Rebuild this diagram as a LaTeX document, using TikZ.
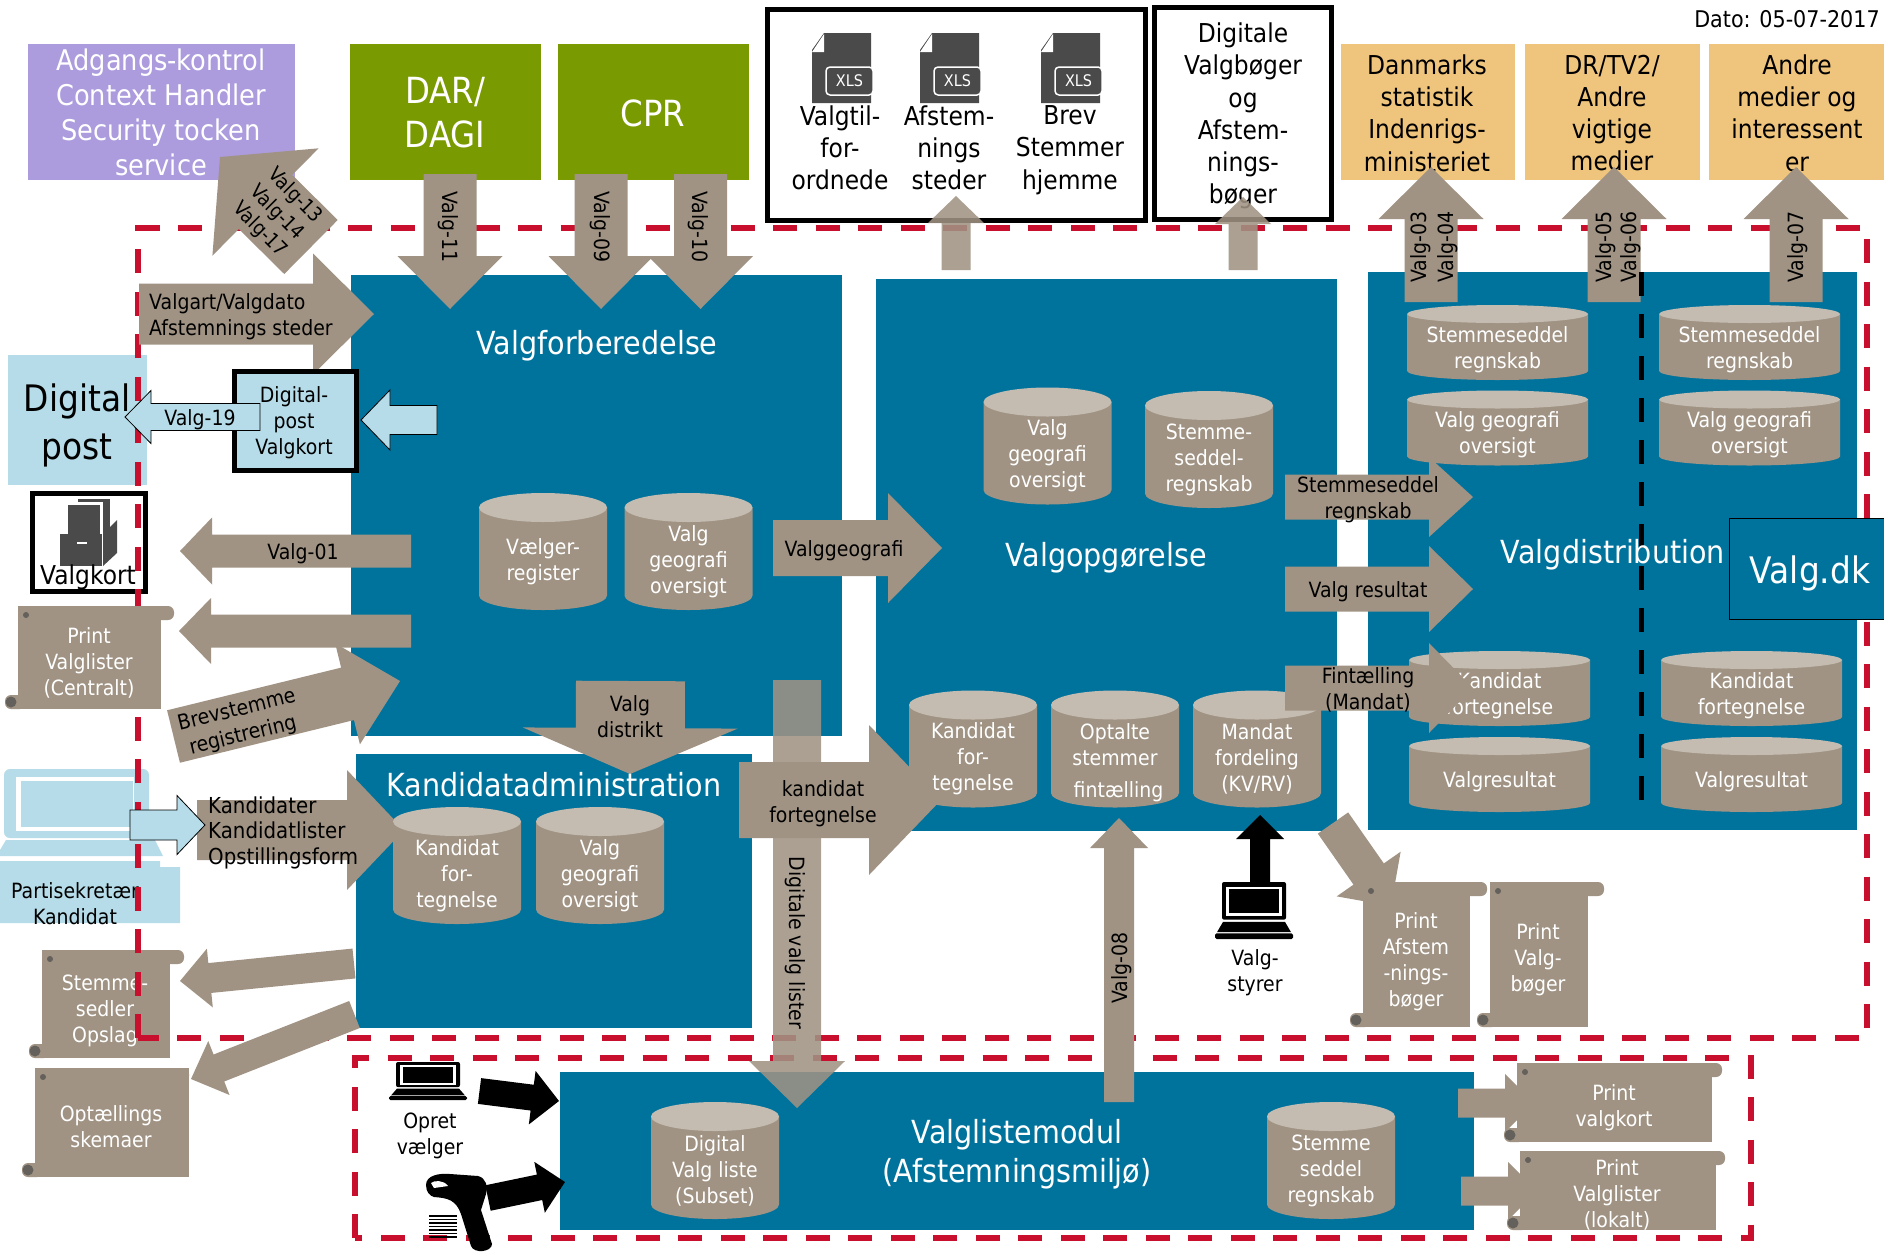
\documentclass[tikz,border=0pt]{standalone}
\usepackage{fontspec}
\setmainfont[FakeStretch=0.9]{DejaVu Sans}
\usetikzlibrary{calc}
\definecolor{valgblue}{HTML}{00739D}
\definecolor{boxbrown}{HTML}{A09383}
\definecolor{captop}{HTML}{C4BCB1}
\definecolor{lightblue}{HTML}{B5DCE8}
\definecolor{adgangpurple}{HTML}{AC9CDE}
\definecolor{registergreen}{HTML}{7A9A01}
\definecolor{mediaorange}{HTML}{EFC47D}
\definecolor{borderred}{HTML}{C8102E}
\definecolor{icongrey}{HTML}{4A4A4A}
\tikzset{
  txtr/.style={font=\fontsize{21}{26}\selectfont,align=center,inner sep=0pt},
  txts/.style={txtr,yshift=-2.5pt},
  txtm/.style={font=\fontsize{26}{32.3}\selectfont,align=center,inner sep=0pt,yshift=-2pt},
  txtl/.style={font=\fontsize{31.8}{39}\selectfont,align=center,inner sep=0pt,white,yshift=-2.5pt},
  brownfill/.style={fill=boxbrown},
  fadedfill/.style={fill=boxbrown,fill opacity=.87},
  blackfill/.style={fill=black},
  lightarrow/.style={fill=lightblue,draw=black,line width=.8pt},
  reddash/.style={draw=borderred,line width=6pt,dash pattern=on 24pt off 18.5pt},
  blackbox/.style={draw=black,fill=white,line width=5pt},
  dbtext/.style={font=\fontsize{21}{26}\selectfont,align=center,inner sep=0pt,white}
}
% tail, tip, half shaft, half head, head length
\newcommand{\blockarrow}[6][brownfill]{%
  \coordinate (tl) at (#2);
  \coordinate (tp) at (#3);
  \coordinate (hb) at ($(tp)!#6pt!(tl)$);
  \path[#1] ($(tl)!#4pt!90:(tp)$) -- ($(hb)!#4pt!90:(tp)$) -- ($(hb)!#5pt!90:(tp)$) -- (tp)
    -- ($(hb)!#5pt!-90:(tp)$) -- ($(hb)!#4pt!-90:(tp)$) -- ($(tl)!#4pt!-90:(tp)$) -- cycle;}
% left, top, right, bottom, top curl
\newcommand{\scrollshape}[5]{%
  \fill[boxbrown] (#1,#2) rectangle (#3,#4);
  \fill[boxbrown,rounded corners=6pt] (#1,#2) rectangle (#3+#5,#2+14);
  \fill[boxbrown,rounded corners=6pt] (#1-13,#4-14) rectangle (#1+8,#4);
  \fill[boxbrown,rounded corners=6pt] (#1,#2) rectangle (#1+10,#2+20);
  \fill[icongrey!70!boxbrown] (#1-7,#4-7) circle[radius=5.5pt];
  \fill[icongrey!70!boxbrown] (#1+8,#2+9) circle[radius=3pt];}
% x, y, half width, half height, end radius
\newcommand{\canbody}[5]{%
  \fill[boxbrown] (#1-#3,#2-#4+#5) -- (#1-#3,#2+#4-#5)
    arc[start angle=180,end angle=360,x radius=#3pt,y radius=#5pt] -- (#1+#3,#2-#4+#5) -- cycle;
  \fill[captop] (#1,#2-#4+#5) ellipse[x radius=#3pt,y radius=#5pt];}
% name, x, y, text
\newcommand{\talldb}[4]{%
  \canbody{#2}{#3}{64}{58.5}{14.5}
  \node (#1) at (#2,#3+10) [dbtext] {#4};}
\newcommand{\shortdb}[4]{%
  \canbody{#2}{#3}{90.5}{37.5}{9}
  \node (#1) at (#2,#3+7) [dbtext] {#4};}
% left, top, height
\newcommand{\laptopicon}[3]{%
  \begin{scope}[shift={(#1,#2)},yscale=#3/100]
    \fill[black,rounded corners=2pt] (7,0) rectangle (71,66);
    \fill[white] (11,8) rectangle (67,60);
    \fill[black] (14,13) rectangle (64,55);
    \fill[black] (8,70) -- (70,70) -- (76,88) -- (2,88) -- cycle;
    \fill[black,rounded corners=1.5pt] (0,90) rectangle (78,100);
  \end{scope}}
% left edge of the sheet
\newcommand{\xlsicon}[1]{%
  \fill[icongrey] (#1+12,33) -- (#1+59,33) -- (#1+59,103) -- (#1,103) -- (#1,50) -- cycle;
  \fill[white] (#1+12,34) -- (#1+12,52) -- (#1,52) -- cycle;
  \draw[fill=icongrey,draw=white,line width=1.5pt,rounded corners=4pt] (#1+14,67) rectangle (#1+61,95);
  \node at (#1+37.5,81) [white,font=\fontsize{16}{16}\selectfont,inner sep=0pt] {XLS};}

\begin{document}
\begin{tikzpicture}[x=1pt,y=-1pt]
  \useasboundingbox (0,0) rectangle (1884,1253);
  \fill[white] (0,0) rectangle (1884,1253);

  % top row
  \node (dato) at (1787,19) [txtr,font=\fontsize{23}{26}\selectfont] {Dato: 05-07-2017};
  \fill[adgangpurple] (28,44) rectangle (295,180);
  \node (adgang) at (161,112.5) [white,align=center,inner sep=0pt,font=\fontsize{28.5}{35.2}\selectfont] {Adgangs-kontrol\\Context Handler\\Security tocken\\service};
  \fill[registergreen] (350,44) rectangle (541,180);
  \node (dar) at (445,113) [white,align=center,inner sep=0pt,font=\fontsize{36}{44}\selectfont] {DAR/\\DAGI};
  \fill[registergreen] (558,44) rectangle (749,180);
  \node (cpr) at (653,113) [white,inner sep=0pt,font=\fontsize{36}{44}\selectfont] {CPR};
  \draw[blackbox] (767,9) rectangle (1145,220);
  \xlsicon{812} \xlsicon{920} \xlsicon{1041}
  \node (tilfor) at (840,146) [txtm] {Valgtil-\\for-\\ordnede};
  \node (afst) at (949,146) [txtm] {Afstem-\\nings\\steder};
  \node (brev) at (1070,148) [txtm] {Brev\\Stemmer\\hjemme};
  \draw[blackbox] (1154,7) rectangle (1331,219);
  \node (digbog) at (1243,114) [txtm] {Digitale\\Valgbøger\\og\\Afstem-\\nings-\\bøger};
  \fill[mediaorange] (1341,44) rectangle (1515,180);
  \node (danmark) at (1427,111) [txtm] {Danmarks\\statistik\\Indenrigs-\\ministeriet};
  \fill[mediaorange] (1525,44) rectangle (1700,180);
  \node (drtv) at (1612,111) [txtm] {DR/TV2/\\Andre\\vigtige\\medier};
  \fill[mediaorange] (1709,44) rectangle (1884,180);
  \node (andre) at (1797,111) [txtm] {Andre\\medier og\\interessent\\er};

  % modules
  \fill[valgblue] (351,275) rectangle (842,736);
  \fill[valgblue] (876,279) rectangle (1337,831);
  \fill[valgblue] (1368,272) rectangle (1857,830);
  \fill[valgblue] (356,754) rectangle (752,1028);
  \fill[valgblue] (560,1072) rectangle (1474,1230);

  % left side, under the red line
  \fill[lightblue] (8,355) rectangle (147,485);
  \node (digpost) at (77,425) [align=center,inner sep=0pt,font=\fontsize{36.5}{48}\selectfont] {Digital\\post};
  \draw[blackbox] (32,493) rectangle (145,591);
  \fill[icongrey] (78,499) rectangle (110,540);
  \fill[white] (71,502) rectangle (103,540);
  \fill[icongrey] (68,505) rectangle (100,540);
  \fill[icongrey] (60,534) rectangle (102,566);
  \fill[icongrey] (103,534) -- (117,520) -- (117,553) -- (103,566) -- cycle;
  \fill[white] (77,542) rectangle (87,544);
  \node (valgkort) at (88,575) [txtm] {Valgkort};
  \fill[lightblue,rounded corners=6pt] (4,769) rectangle (149,838);
  \fill[white] (16,777) rectangle (134,831);
  \fill[lightblue] (21,781) rectangle (133,827);
  \fill[lightblue] (6,840) -- (155,840) -- (163,856) -- (0,856) -- (0,850) -- cycle;
  \fill[lightblue] (0,861) -- (160,861) -- (160,867) -- (180,867) -- (180,923) -- (0,923) -- cycle;
  \node (parti) at (75,901.5) [txts] {Partisekretær\\Kandidat};
  \scrollshape{42}{950}{170}{1058}{14}
  \node (stemsedler) at (105,1008.5) [txts,white] {Stemme-\\sedler\\Opslag};

  % dashed borders
  \draw[reddash] (138,1038) -- (138,228) -- (1867,228) -- (1867,1038) -- cycle;
  \draw[reddash] (355,1238) -- (355,1058) -- (1751,1058) -- (1751,1238) -- cycle;

  % arrows under the cylinders
  \blockarrow{197,830}{404,830}{30}{60}{57}
  \node (kandlist) at (208,830) [anchor=west,txts,align=left,font=\fontsize{22}{25.5}\selectfont] {Kandidater\\Kandidatlister\\Opstillingsform};
  \blockarrow[fadedfill]{797,680}{797,1108}{24}{48}{47}
  \blockarrow{739,800}{941,800}{38}{75}{72}
  \node (kandfor) at (823,801) [txts] {kandidat\\fortegnelse};
  \node (diglist) at (795,943) [txtr,rotate=-90] {Digitale valg lister};

  % cylinders
  \talldb{vaelger}{543}{551.5}{Vælger-\\register}
  \talldb{geofor}{688.5}{551.5}{Valg\\geografi\\oversigt}
  \talldb{geoopg}{1047.5}{446}{Valg\\geografi\\oversigt}
  \talldb{regnopg}{1209}{449.5}{Stemme-\\seddel-\\regnskab}
  \talldb{kandopg}{973}{749}{Kandidat\\for-\\tegnelse}
  \canbody{1115}{749}{64}{58.5}{14.5}
  \node (optalte) at (1115,763) [dbtext] {Optalte\\stemmer\\[6pt]\,\,fintælling};
  \talldb{mandat}{1257}{749}{Mandat\\fordeling\\(KV/RV)}
  \talldb{kandadm}{457}{865.5}{Kandidat\\for-\\tegnelse}
  \talldb{geoadm}{600}{865.5}{Valg\\geografi\\oversigt}
  \talldb{digliste}{715}{1160.5}{Digital\\Valg liste\\(Subset)}
  \talldb{regnliste}{1331}{1160.5}{Stemme\\seddel\\regnskab}
  \shortdb{regna}{1497.5}{342.5}{Stemmeseddel\\regnskab}
  \shortdb{regnb}{1749.5}{342.5}{Stemmeseddel\\regnskab}
  \shortdb{geoa}{1497.5}{428}{Valg geografi\\oversigt}
  \shortdb{geob}{1749.5}{428}{Valg geografi\\oversigt}
  \shortdb{kanda}{1499.5}{688.5}{Kandidat\\fortegnelse}
  \shortdb{kandb}{1751.5}{688.5}{Kandidat\\fortegnelse}
  \shortdb{resa}{1499.5}{774.5}{Valgresultat}
  \shortdb{resb}{1751.5}{774.5}{Valgresultat}

  % arrows
  \blockarrow{311,247}{220,157}{38}{75.5}{64}
  \node (v13) at (295,196) [txtr,rotate=-45,font=\fontsize{20}{20}\selectfont] {Valg-13};
  \node (v14) at (277,213) [txtr,rotate=-45,font=\fontsize{20}{20}\selectfont] {Valg-14};
  \node (v17) at (260,230) [txtr,rotate=-45,font=\fontsize{20}{20}\selectfont] {Valg-17};
  \blockarrow{450,174}{450,309}{26.5}{52.5}{53}
  \node (v11) at (448,227) [txtr,rotate=-90] {Valg-11};
  \blockarrow{601,174}{601,309}{26.5}{52.5}{53}
  \node (v09) at (600,227) [txtr,rotate=-90] {Valg-09};
  \blockarrow{700.5,174}{700.5,309}{26.5}{52.5}{53}
  \node (v10) at (698,227) [txtr,rotate=-90] {Valg-10};
  \blockarrow{139,314}{374,314}{30.5}{60.5}{61}
  \node (valgart) at (149,314.5) [anchor=west,txts,align=left] {Valgart/Valgdato\\Afstemnings steder};
  \blockarrow[fadedfill]{956,270}{956,196}{14.5}{28}{27}
  \blockarrow[fadedfill]{1243,270}{1243,197}{14.5}{28}{27}
  \blockarrow{1431,302}{1431,167}{26.5}{52.5}{52}
  \node (v03) at (1421,247) [txtr,rotate=90] {Valg-03};
  \node (v04) at (1448,247) [txtr,rotate=90] {Valg-04};
  \blockarrow{1614,302}{1614,167}{26.5}{52.5}{52}
  \node (v05) at (1606,247) [txtr,rotate=90] {Valg-05};
  \node (v06) at (1631,247) [txtr,rotate=90] {Valg-06};
  \blockarrow{1796,302}{1796,167}{26.5}{52.5}{52}
  \node (v07) at (1798,247) [txtr,rotate=90] {Valg-07};
  \blockarrow{411,551}{180,551}{16.5}{33.5}{32}
  \node (v01) at (303,551) [txts] {Valg-01};
  \blockarrow{411,631}{179,631}{16.5}{33}{32}
  \blockarrow{173.5,736.5}{400,681}{27}{52}{54}
  \node (brevst) at (240,721) [txts,rotate=13.8] {Brevstemme\\registrering};
  \blockarrow{630.5,681}{630,774}{54.5}{107.5}{46}
  \node (distrikt) at (630,714.5) [txts] {Valg\\distrikt};
  \blockarrow{773,548}{942,548}{28}{55}{54}
  \node (vgeo) at (844,548) [txts] {Valggeografi};
  \blockarrow{1285,497}{1473,497}{22.5}{40}{44}
  \node (stemregn) at (1368,497) [txts] {Stemmeseddel\\regnskab};
  \blockarrow{1285,589}{1473,589}{22.5}{43}{44}
  \node (vres) at (1368,589) [txts] {Valg resultat};
  \blockarrow{1285,688}{1473,688}{22.5}{45}{44}
  \node (fint) at (1368,687) [txts] {Fintælling\\(Mandat)};
  \blockarrow{1119,1102}{1119,818}{15}{29}{30}
  \node (v08) at (1122,968) [txtr,rotate=90] {Valg-08};
  \blockarrow[blackfill]{1260,885}{1260,815}{10}{24}{24}
  \blockarrow[blackfill]{479.5,1091}{559,1101}{13}{27}{27}
  \blockarrow[blackfill]{488,1198}{565,1182}{13}{26}{26}
  \blockarrow{354,963.5}{180,981}{15}{29.5}{30}
  \blockarrow{354.5,1014.5}{191,1079}{14.5}{29}{30}
  \blockarrow{1333,823}{1391,906}{18.5}{39}{39}
  \blockarrow{1458,1103}{1534,1103}{14.5}{29}{29}
  \blockarrow{1461,1191}{1537,1191}{14.5}{29}{29}

  % division in Valgdistribution
  \draw[black,line width=5pt,dash pattern=on 24pt off 18pt] (1641,272) -- (1641,808);

  % light blue boxes and arrows
  \draw[black,fill=lightblue,line width=5pt] (234,371) rectangle (356,470);
  \node (digkort) at (294,420) [txts] {Digital-\\post\\Valgkort};
  \blockarrow[lightarrow]{260,417}{125,417}{13.5}{26.5}{26}
  \node (v19) at (200,417) [txts] {Valg-19};
  \blockarrow[lightarrow]{437,420}{361,420}{14.5}{30}{29}
  \blockarrow[lightarrow]{130,825}{205,825}{15}{29.5}{28}

  % scrolls
  \scrollshape{18}{606}{161}{709}{13}
  \node (printcen) at (89,660) [txts,white] {Print\\Valglister\\(Centralt)};
  \scrollshape{35}{1068}{189}{1177}{0}
  \node (optael) at (111,1124) [txts,white] {Optællings\\skemaer};
  \scrollshape{1363}{882}{1470}{1027}{17}
  \node (printafst) at (1416,959) [txts,white] {Print\\Afstem\\-nings-\\bøger};
  \scrollshape{1490}{882}{1588}{1027}{16}
  \node (printbog) at (1538,957) [txts,white] {Print\\Valg-\\bøger};
  \scrollshape{1517}{1063}{1712}{1142}{10}
  \node (printkort) at (1614,1105) [txts,white] {Print\\valgkort};
  \scrollshape{1520}{1151}{1716}{1230}{9}
  \node (printlok) at (1617,1192) [txts,white] {Print\\Valglister\\(lokalt)};

  % devices
  \laptopicon{1215}{882}{57}
  \node (styrer) at (1255,970) [txts] {Valg-\\styrer};
  \laptopicon{389}{1062}{38}
  \node (opret) at (430,1133) [txts] {Opret\\vælger};
  \fill[black] (426,1185) .. controls (426,1175) and (440,1173) .. (450,1174) -- (478,1176)
    .. controls (486,1178) and (488,1186) .. (486,1194) -- (481,1210) -- (492,1244)
    .. controls (492,1252) and (474,1254) .. (471,1246) -- (461,1214)
    .. controls (456,1200) and (448,1198) .. (434,1197) .. controls (430,1196) and (426,1192) .. (426,1185) -- cycle;
  \fill[white] (431,1183) .. controls (434,1180) and (444,1180) .. (448,1186) -- (434,1188) -- cycle;
  \foreach \barY in {1215,1218.5,...,1236}
    \fill[black] (429,\barY) rectangle (457,\barY+1.8);

  % headings
  \node (forb) at (597,343) [txtl] {Valgforberedelse};
  \node (kandhead) at (554,782) [txtl] {Kandidatadministration};
  \node (opg) at (1106,555) [txtl] {Valgopgørelse};
  \node (dist) at (1613,552) [txtl] {Valgdistribution};
  \node (modul) at (1017,1152) [txtl] {Valglistemodul\\(Afstemningsmiljø)};
  \draw[fill=valgblue,draw=black,line width=1pt] (1729,518) rectangle (1884,619);
  \node (valgdk) at (1810,573) [white,inner sep=0pt,font=\fontsize{36.5}{36}\selectfont] {Valg.dk};
\end{tikzpicture}
\end{document}
